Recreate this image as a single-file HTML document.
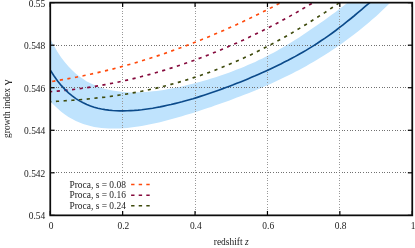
<!DOCTYPE html>
<html><head><meta charset="utf-8"><title>growth index</title>
<style>
html,body{margin:0;padding:0;background:#fff;}
body{width:415px;height:248px;overflow:hidden;}
svg{display:block;will-change:transform;}
text{font-family:"Liberation Serif",serif;font-size:9.45px;fill:#1a1a1a;}
</style></head><body>
<svg width="415" height="248" viewBox="0 0 415 248">
<rect width="415" height="248" fill="#fff"/>
<defs><clipPath id="c"><rect x="50.25" y="2.65" width="362.0" height="212.7"/></clipPath></defs>
<g clip-path="url(#c)">
<path d="M50.2,38.8 L53.9,45.8 L57.6,52.0 L61.2,57.5 L64.9,62.3 L68.5,66.6 L72.2,70.3 L75.9,73.7 L79.5,76.6 L83.2,79.1 L86.8,81.4 L90.5,83.3 L94.2,85.0 L97.8,86.5 L101.5,87.8 L105.1,88.9 L108.8,89.8 L112.5,90.5 L116.1,91.1 L119.8,91.6 L123.4,92.0 L127.1,92.2 L130.8,92.4 L134.4,92.4 L138.1,92.3 L141.7,92.2 L145.4,92.0 L149.0,91.7 L152.7,91.3 L156.4,90.9 L160.0,90.4 L163.7,89.9 L167.3,89.3 L171.0,88.6 L174.7,87.9 L178.3,87.2 L182.0,86.4 L185.6,85.5 L189.3,84.6 L193.0,83.7 L196.6,82.8 L200.3,81.8 L203.9,80.7 L207.6,79.7 L211.2,78.6 L214.9,77.4 L218.6,76.2 L222.2,75.0 L225.9,73.7 L229.5,72.4 L233.2,71.0 L236.9,69.6 L240.5,68.2 L244.2,66.7 L247.8,65.1 L251.5,63.5 L255.2,61.9 L258.8,60.1 L262.5,58.4 L266.1,56.5 L269.8,54.6 L273.5,52.7 L277.1,50.7 L280.8,48.6 L284.4,46.5 L288.1,44.3 L291.8,42.1 L295.4,39.8 L299.1,37.4 L302.7,35.1 L306.4,32.6 L310.0,30.1 L313.7,27.6 L317.4,25.1 L321.0,22.5 L324.7,19.9 L328.3,17.2 L332.0,14.6 L335.7,11.9 L339.3,9.1 L343.0,6.3 L346.6,3.5 L350.3,0.6 L354.0,-2.3 L357.6,-5.4 L361.3,-8.6 L401.5,-9.2 L397.9,-5.2 L394.2,-1.3 L390.5,2.5 L386.9,6.1 L383.2,9.6 L379.6,13.0 L375.9,16.4 L372.2,19.6 L368.6,22.7 L364.9,25.8 L361.3,28.8 L357.6,31.7 L354.0,34.6 L350.3,37.3 L346.6,40.1 L343.0,42.7 L339.3,45.3 L335.7,47.8 L332.0,50.3 L328.3,52.7 L324.7,55.0 L321.0,57.3 L317.4,59.5 L313.7,61.7 L310.0,63.8 L306.4,65.9 L302.7,67.9 L299.1,69.9 L295.4,71.8 L291.8,73.7 L288.1,75.6 L284.4,77.3 L280.8,79.1 L277.1,80.8 L273.5,82.5 L269.8,84.2 L266.1,85.8 L262.5,87.3 L258.8,88.9 L255.2,90.4 L251.5,91.9 L247.8,93.4 L244.2,94.8 L240.5,96.2 L236.9,97.6 L233.2,99.0 L229.5,100.4 L225.9,101.7 L222.2,103.0 L218.6,104.3 L214.9,105.6 L211.2,106.9 L207.6,108.1 L203.9,109.3 L200.3,110.5 L196.6,111.7 L193.0,112.9 L189.3,114.0 L185.6,115.1 L182.0,116.2 L178.3,117.3 L174.7,118.3 L171.0,119.3 L167.3,120.3 L163.7,121.3 L160.0,122.2 L156.4,123.0 L152.7,123.8 L149.0,124.6 L145.4,125.3 L141.7,126.0 L138.1,126.6 L134.4,127.1 L130.8,127.6 L127.1,128.0 L123.4,128.3 L119.8,128.5 L116.1,128.6 L112.5,128.6 L108.8,128.5 L105.1,128.3 L101.5,128.0 L97.8,127.5 L94.2,126.9 L90.5,126.1 L86.8,125.1 L83.2,123.9 L79.5,122.5 L75.9,120.9 L72.2,119.0 L68.5,116.9 L64.9,114.5 L61.2,111.7 L57.6,108.6 L53.9,105.1 L50.2,101.2Z" fill="#bfe3fd"/>
</g>
<g stroke="#999" stroke-width="1" stroke-dasharray="1 1.65" fill="none" shape-rendering="crispEdges">
<line x1="122.65" y1="2.65" x2="122.65" y2="215.35"/><line x1="195.05" y1="2.65" x2="195.05" y2="215.35"/><line x1="267.45" y1="2.65" x2="267.45" y2="215.35"/><line x1="339.85" y1="2.65" x2="339.85" y2="215.35"/><line stroke="#707070" x1="50.25" y1="172.81" x2="412.25" y2="172.81"/><line stroke="#707070" x1="50.25" y1="130.27" x2="412.25" y2="130.27"/><line stroke="#707070" x1="50.25" y1="87.73" x2="412.25" y2="87.73"/><line stroke="#707070" x1="50.25" y1="45.19" x2="412.25" y2="45.19"/>
</g>
<rect x="67" y="180.2" width="86" height="30.6" fill="#fff"/>
<g clip-path="url(#c)" fill="none" stroke-width="1.65">
<path d="M50.2,81.6 L53.9,81.1 L57.6,80.5 L61.2,79.9 L64.9,79.3 L68.5,78.6 L72.2,77.9 L75.9,77.2 L79.5,76.5 L83.2,75.8 L86.8,75.0 L90.5,74.2 L94.2,73.4 L97.8,72.6 L101.5,71.7 L105.1,70.9 L108.8,70.0 L112.5,69.1 L116.1,68.1 L119.8,67.1 L123.4,66.1 L127.1,65.1 L130.8,64.1 L134.4,63.0 L138.1,62.0 L141.7,60.9 L145.4,59.7 L149.0,58.6 L152.7,57.4 L156.4,56.2 L160.0,55.0 L163.7,53.8 L167.3,52.5 L171.0,51.2 L174.7,49.9 L178.3,48.6 L182.0,47.2 L185.6,45.9 L189.3,44.5 L193.0,43.1 L196.6,41.6 L200.3,40.2 L203.9,38.7 L207.6,37.2 L211.2,35.7 L214.9,34.1 L218.6,32.6 L222.2,31.0 L225.9,29.4 L229.5,27.7 L233.2,26.1 L236.9,24.4 L240.5,22.7 L244.2,21.0 L247.8,19.3 L251.5,17.5 L255.2,15.7 L258.8,13.9 L262.5,12.1 L266.1,10.3 L269.8,8.4 L273.5,6.5 L277.1,4.6 L280.8,2.7 L284.4,0.8 L288.1,-1.2 L291.8,-3.2 L295.4,-5.2 L299.1,-7.2" stroke="#ff4a0c" stroke-dasharray="3.2 4.485" stroke-dashoffset="5.66"/>
<path d="M50.2,91.7 L53.9,91.4 L57.6,91.1 L61.2,90.8 L64.9,90.4 L68.5,90.0 L72.2,89.6 L75.9,89.2 L79.5,88.7 L83.2,88.2 L86.8,87.7 L90.5,87.1 L94.2,86.5 L97.8,85.9 L101.5,85.3 L105.1,84.6 L108.8,83.9 L112.5,83.2 L116.1,82.5 L119.8,81.7 L123.4,80.9 L127.1,80.1 L130.8,79.3 L134.4,78.4 L138.1,77.5 L141.7,76.5 L145.4,75.6 L149.0,74.6 L152.7,73.6 L156.4,72.5 L160.0,71.5 L163.7,70.4 L167.3,69.3 L171.0,68.1 L174.7,67.0 L178.3,65.8 L182.0,64.5 L185.6,63.3 L189.3,62.0 L193.0,60.7 L196.6,59.4 L200.3,58.0 L203.9,56.6 L207.6,55.2 L211.2,53.8 L214.9,52.3 L218.6,50.8 L222.2,49.3 L225.9,47.7 L229.5,46.1 L233.2,44.5 L236.9,42.9 L240.5,41.2 L244.2,39.6 L247.8,37.8 L251.5,36.1 L255.2,34.3 L258.8,32.5 L262.5,30.7 L266.1,28.9 L269.8,27.0 L273.5,25.1 L277.1,23.2 L280.8,21.2 L284.4,19.2 L288.1,17.2 L291.8,15.1 L295.4,13.1 L299.1,11.0 L302.7,8.8 L306.4,6.7 L310.0,4.5 L313.7,2.3 L317.4,0.0 L321.0,-2.2 L324.7,-4.5 L328.3,-6.9" stroke="#850a3c" stroke-dasharray="3.2 4.485" stroke-dashoffset="1.15"/>
<path d="M50.2,101.8 L53.9,101.5 L57.6,101.3 L61.2,101.1 L64.9,100.8 L68.5,100.6 L72.2,100.3 L75.9,100.0 L79.5,99.7 L83.2,99.4 L86.8,99.1 L90.5,98.7 L94.2,98.3 L97.8,97.9 L101.5,97.5 L105.1,97.1 L108.8,96.6 L112.5,96.1 L116.1,95.6 L119.8,95.0 L123.4,94.5 L127.1,93.9 L130.8,93.2 L134.4,92.6 L138.1,91.9 L141.7,91.2 L145.4,90.5 L149.0,89.7 L152.7,88.9 L156.4,88.1 L160.0,87.2 L163.7,86.3 L167.3,85.4 L171.0,84.4 L174.7,83.4 L178.3,82.4 L182.0,81.3 L185.6,80.2 L189.3,79.1 L193.0,77.9 L196.6,76.7 L200.3,75.5 L203.9,74.2 L207.6,72.9 L211.2,71.5 L214.9,70.2 L218.6,68.7 L222.2,67.3 L225.9,65.8 L229.5,64.3 L233.2,62.7 L236.9,61.1 L240.5,59.5 L244.2,57.8 L247.8,56.1 L251.5,54.4 L255.2,52.6 L258.8,50.8 L262.5,48.9 L266.1,47.1 L269.8,45.1 L273.5,43.2 L277.1,41.2 L280.8,39.2 L284.4,37.2 L288.1,35.1 L291.8,33.0 L295.4,30.8 L299.1,28.6 L302.7,26.4 L306.4,24.2 L310.0,21.9 L313.7,19.6 L317.4,17.3 L321.0,14.9 L324.7,12.6 L328.3,10.2 L332.0,7.7 L335.7,5.3 L339.3,2.8 L343.0,0.3 L346.6,-2.3 L350.3,-4.8 L354.0,-7.4" stroke="#3e4a0c" stroke-dasharray="3.2 4.525" stroke-dashoffset="2.0"/>
<path d="M50.2,70.0 L53.9,75.7 L57.6,80.9 L61.2,85.4 L64.9,89.4 L68.5,92.8 L72.2,95.9 L75.9,98.6 L79.5,100.9 L83.2,102.8 L86.8,104.5 L90.5,106.0 L94.2,107.2 L97.8,108.2 L101.5,109.0 L105.1,109.6 L108.8,110.1 L112.5,110.5 L116.1,110.7 L119.8,110.9 L123.4,110.9 L127.1,110.8 L130.8,110.6 L134.4,110.4 L138.1,110.1 L141.7,109.7 L145.4,109.2 L149.0,108.7 L152.7,108.2 L156.4,107.5 L160.0,106.9 L163.7,106.1 L167.3,105.3 L171.0,104.5 L174.7,103.6 L178.3,102.7 L182.0,101.8 L185.6,100.8 L189.3,99.7 L193.0,98.7 L196.6,97.6 L200.3,96.4 L203.9,95.2 L207.6,94.0 L211.2,92.8 L214.9,91.5 L218.6,90.2 L222.2,88.9 L225.9,87.5 L229.5,86.2 L233.2,84.8 L236.9,83.3 L240.5,81.9 L244.2,80.4 L247.8,78.9 L251.5,77.3 L255.2,75.8 L258.8,74.2 L262.5,72.6 L266.1,70.9 L269.8,69.2 L273.5,67.5 L277.1,65.8 L280.8,64.0 L284.4,62.1 L288.1,60.3 L291.8,58.3 L295.4,56.4 L299.1,54.3 L302.7,52.2 L306.4,50.1 L310.0,47.9 L313.7,45.6 L317.4,43.3 L321.0,40.8 L324.7,38.4 L328.3,35.8 L332.0,33.2 L335.7,30.5 L339.3,27.7 L343.0,24.8 L346.6,21.9 L350.3,19.0 L354.0,16.0 L357.6,12.9 L361.3,9.8 L364.9,6.7 L368.6,3.6 L372.2,0.5 L375.9,-2.5 L379.6,-5.5 L383.2,-8.4" stroke="#0b4a8a"/>
</g>
<g stroke="#000" stroke-width="1.2" fill="none">
<line x1="50.25" y1="215.35" x2="50.25" y2="210.95"/><line x1="50.25" y1="2.65" x2="50.25" y2="7.050000000000001"/><line x1="122.65" y1="215.35" x2="122.65" y2="210.95"/><line x1="122.65" y1="2.65" x2="122.65" y2="7.050000000000001"/><line x1="195.05" y1="215.35" x2="195.05" y2="210.95"/><line x1="195.05" y1="2.65" x2="195.05" y2="7.050000000000001"/><line x1="267.45" y1="215.35" x2="267.45" y2="210.95"/><line x1="267.45" y1="2.65" x2="267.45" y2="7.050000000000001"/><line x1="339.85" y1="215.35" x2="339.85" y2="210.95"/><line x1="339.85" y1="2.65" x2="339.85" y2="7.050000000000001"/><line x1="412.25" y1="215.35" x2="412.25" y2="210.95"/><line x1="412.25" y1="2.65" x2="412.25" y2="7.050000000000001"/><line x1="50.25" y1="215.35" x2="54.65" y2="215.35"/><line x1="412.25" y1="215.35" x2="407.85" y2="215.35"/><line x1="50.25" y1="172.81" x2="54.65" y2="172.81"/><line x1="412.25" y1="172.81" x2="407.85" y2="172.81"/><line x1="50.25" y1="130.27" x2="54.65" y2="130.27"/><line x1="412.25" y1="130.27" x2="407.85" y2="130.27"/><line x1="50.25" y1="87.73" x2="54.65" y2="87.73"/><line x1="412.25" y1="87.73" x2="407.85" y2="87.73"/><line x1="50.25" y1="45.19" x2="54.65" y2="45.19"/><line x1="412.25" y1="45.19" x2="407.85" y2="45.19"/><line x1="50.25" y1="2.65" x2="54.65" y2="2.65"/><line x1="412.25" y1="2.65" x2="407.85" y2="2.65"/>
</g>
<rect x="50.25" y="2.65" width="362.0" height="212.7" fill="none" stroke="#0c0c0c" stroke-width="1.75"/>
<text x="51.00" y="229.0" text-anchor="middle">0</text><text x="123.40" y="229.0" text-anchor="middle">0.2</text><text x="195.80" y="229.0" text-anchor="middle">0.4</text><text x="268.20" y="229.0" text-anchor="middle">0.6</text><text x="340.60" y="229.0" text-anchor="middle">0.8</text><text x="413.00" y="229.0" text-anchor="middle">1</text><text x="45.3" y="219.35" text-anchor="end">0.54</text><text x="45.3" y="176.81" text-anchor="end">0.542</text><text x="45.3" y="134.27" text-anchor="end">0.544</text><text x="45.3" y="91.73" text-anchor="end">0.546</text><text x="45.3" y="49.19" text-anchor="end">0.548</text><text x="45.3" y="6.65" text-anchor="end">0.55</text>
<text x="231.2" y="244.7" text-anchor="middle">redshift <tspan font-style="italic">z</tspan></text>
<text transform="translate(10.1,87.9) rotate(-90)" text-anchor="end">growth index</text>
<text transform="translate(10.1,85.3) rotate(-90) scale(1.42,1.2)" text-anchor="start">γ</text>
<text x="125.9" y="187.5" text-anchor="end">Proca, s = 0.08</text>
<text x="125.9" y="198.2" text-anchor="end">Proca, s = 0.16</text>
<text x="125.9" y="208.8" text-anchor="end">Proca, s = 0.24</text>
<g fill="none" stroke-width="1.4" stroke-dasharray="3.4 4.2">
<line x1="131.1" y1="184.5" x2="150" y2="184.5" stroke="#ff4a0c"/>
<line x1="131.1" y1="195.2" x2="150" y2="195.2" stroke="#850a3c"/>
<line x1="131.1" y1="205.8" x2="150" y2="205.8" stroke="#3e4a0c"/>
</g>
</svg>
</body></html>
